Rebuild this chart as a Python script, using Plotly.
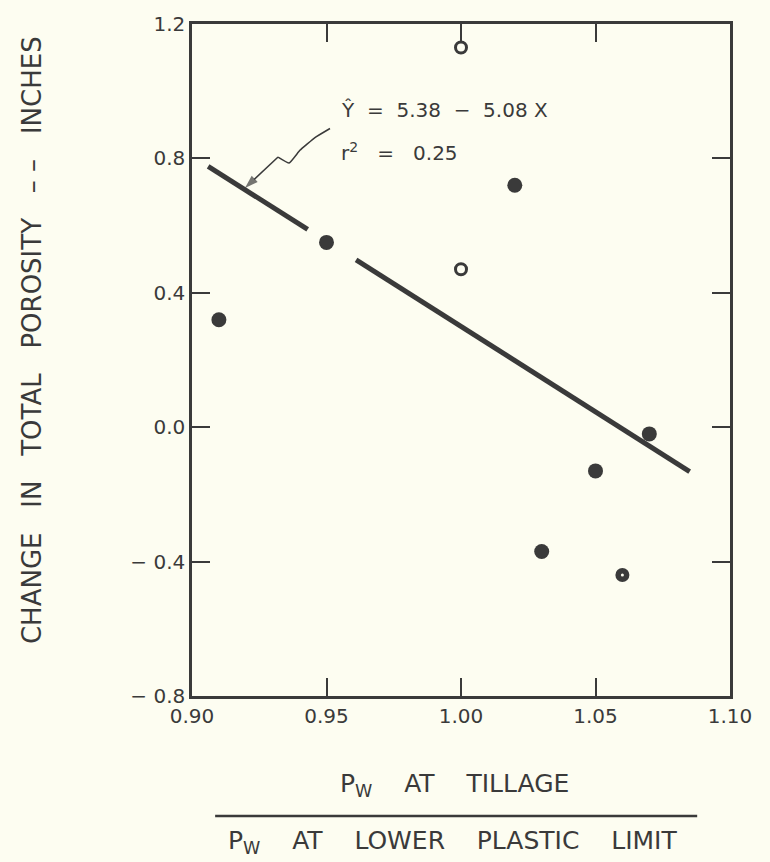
import plotly.graph_objects as go

# ---- data ----
filled_x = [0.91, 0.95, 1.02, 1.03, 1.05, 1.07]
filled_y = [0.32, 0.55, 0.72, -0.37, -0.13, -0.02]
open_x = [1.00, 1.00]
open_y = [1.13, 0.47]
ring_x = [1.06]
ring_y = [-0.44]
# regression line (drawn with a gap around the 0.95 point)
line1_x = [0.906, 0.943]
line1_y = [0.776, 0.589]
line2_x = [0.961, 1.085]
line2_y = [0.498, -0.132]
# leader arrow path from the equation to the line
arrow_x = [0.9513, 0.9457, 0.9401, 0.9361, 0.9320]
arrow_y = [0.889, 0.862, 0.824, 0.786, 0.804]
arrow_tip_x = [0.9320, 0.9197]
arrow_tip_y = [0.804, 0.712]

x_ticks = [0.90, 0.95, 1.00, 1.05, 1.10]
x_ticktext = ["0.90", "0.95", "1.00", "1.05", "1.10"]
y_ticks = [1.2, 0.8, 0.4, 0.0, -0.4, -0.8]
y_ticktext = ["1.2", "0.8", "0.4", "0.0", "\u2212 0.4", "\u2212 0.8"]

INK = "#3a3a3a"
BG = "#fdfdf1"
FONT = "DejaVu Sans"

fig = go.Figure()

for lx, ly in [(line1_x, line1_y), (line2_x, line2_y)]:
    fig.add_trace(go.Scatter(x=lx, y=ly, mode="lines",
                             line=dict(color=INK, width=5), hoverinfo="skip",
                             showlegend=False))

fig.add_trace(go.Scatter(x=arrow_x, y=arrow_y, mode="lines",
                         line=dict(color=INK, width=1.5, shape="spline", smoothing=0.3),
                         showlegend=False, hoverinfo="skip"))
fig.add_trace(go.Scatter(x=arrow_tip_x, y=arrow_tip_y, mode="lines+markers",
                         line=dict(color=INK, width=1.5),
                         marker=dict(symbol="arrow", angleref="previous",
                                     size=[0, 14], color=INK, line=dict(width=0)),
                         showlegend=False, hoverinfo="skip"))

fig.add_trace(go.Scatter(x=filled_x, y=filled_y, mode="markers",
                         marker=dict(size=15, color=INK, line=dict(width=0)),
                         showlegend=False))
fig.add_trace(go.Scatter(x=open_x, y=open_y, mode="markers",
                         marker=dict(size=11, color=BG, line=dict(width=3, color=INK)),
                         showlegend=False))
fig.add_trace(go.Scatter(x=ring_x, y=ring_y, mode="markers",
                         marker=dict(size=14, color=INK, line=dict(width=0)),
                         showlegend=False))
fig.add_trace(go.Scatter(x=ring_x, y=ring_y, mode="markers",
                         marker=dict(size=3, color=BG, line=dict(width=0)),
                         showlegend=False))

annotations = [
    dict(x=0.9548, y=0.945, xref="x", yref="y", xanchor="left", yanchor="middle",
         text="\u0176  =  5.38  \u2212  5.08 X", showarrow=False,
         font=dict(family=FONT, size=20, color=INK)),
    dict(x=0.9545, y=0.82, xref="x", yref="y", xanchor="left", yanchor="middle",
         text="r<sup>2</sup>   =   0.25", showarrow=False,
         font=dict(family=FONT, size=20, color=INK)),
    # y axis title
    dict(x=-0.297, y=0.53, xref="paper", yref="paper", textangle=-90,
         text="CHANGE   IN   TOTAL   POROSITY   \u2013 \u2013   INCHES", showarrow=False,
         xanchor="center", yanchor="middle",
         font=dict(family=FONT, size=26, color=INK)),
    # x axis title (fraction)
    dict(x=0.488, y=-0.132, xref="paper", yref="paper",
         text="P<sub>W</sub>    AT    TILLAGE", showarrow=False,
         xanchor="center", yanchor="middle",
         font=dict(family=FONT, size=25, color=INK)),
    dict(x=0.4835, y=-0.218, xref="paper", yref="paper",
         text="P<sub>W</sub>    AT    LOWER    PLASTIC    LIMIT", showarrow=False,
         xanchor="center", yanchor="middle",
         font=dict(family=FONT, size=25, color=INK)),
]

shapes = [
    dict(type="line", xref="paper", yref="paper", x0=0.043, x1=0.939,
         y0=-0.1785, y1=-0.1785, line=dict(color=INK, width=2.5)),
]

axis_common = dict(showgrid=False, zeroline=False, showline=True, linecolor=INK,
                   linewidth=2.5, mirror="ticks", ticks="inside", ticklen=18,
                   tickwidth=1.5, tickcolor=INK,
                   tickfont=dict(family=FONT, size=20, color=INK))

fig.update_layout(
    width=770, height=862,
    margin=dict(l=192, r=40, t=15, b=166),
    paper_bgcolor=BG, plot_bgcolor=BG,
    xaxis=dict(range=[0.90, 1.10], tickvals=x_ticks, ticktext=x_ticktext,
               **axis_common),
    yaxis=dict(range=[-0.8, 1.2], tickvals=y_ticks, ticktext=y_ticktext,
               ticklabelstandoff=0, **axis_common),
    annotations=annotations, shapes=shapes,
)

fig.write_html("out.html")
